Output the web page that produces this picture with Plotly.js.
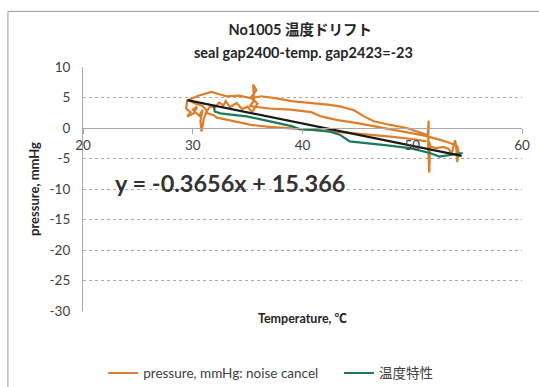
<!DOCTYPE html>
<html>
<head>
<meta charset="utf-8">
<script src="https://cdn.plot.ly/plotly-3.0.1.min.js"></script>
<style>
  html, body { margin: 0; padding: 0; background: #ffffff; }
  #chart { width: 539px; height: 387px; }
</style>
</head>
<body>
<div id="chart"></div>
<script>
// Measured pressure (noise-cancelled) over a temperature cycle
const pressureTemp = [
  29.5, 29.4, 29.8, 29.5, 30.1, 30.4, 30.0, 30.6, 30.9, 30.7, 30.8, 31.0, 31.3, 30.9, 30.2, 29.6,
  30.5, 31.7, 32.5, 33.1, 34.2, 35.3, 36.2, 37.5, 39.0, 40.8, 42.5, 43.5, 44.7, 45.6, 46.5, 48.0, 49.5, 50.8, 51.4,
  51.5, 51.45, 51.55, 51.6, 51.5, 51.7,
  52.2, 52.8, 53.3, 53.6, 53.9, 54.0, 54.1, 54.2, 54.3, 54.1,
  53.5, 52.5, 51.0, 49.5, 48.0, 46.5, 45.0, 43.2, 41.7, 40.8, 38.9, 37.0, 36.2, 35.2,
  35.6, 35.5, 35.8, 35.3, 35.9, 35.4, 35.0,
  34.5, 34.0, 33.4, 33.0, 32.8, 32.4, 32.0, 31.6, 31.2, 31.9,
  32.2, 33.5, 35.3, 37.0, 39.0, 40.8, 42.5, 44.0, 46.0, 48.0, 50.0, 51.3
];
const pressureValue = [
  4.6, 3.2, 2.6, 1.9, 2.4, 3.5, 3.0, 2.0, 3.0, 1.2, -0.6, 1.5, 2.8, 3.6, 4.0, 4.6,
  5.3, 5.9, 5.5, 5.2, 5.3, 4.9, 5.2, 4.9, 4.4, 4.1, 3.8, 3.5, 2.9, 1.9, 1.1, 0.5, 0.0, -0.8, -1.2,
  1.2, -3.0, -7.3, -4.0, -2.2, -3.1,
  -3.3, -3.1, -3.4, -4.2, -2.0, -3.0, -5.6, -4.1, -4.6, -3.0,
  -2.5, -1.9, -1.2, -0.7, -0.2, 0.4, 0.8, 1.3, 1.9, 2.6, 3.0, 3.2, 3.4, 3.6,
  4.5, 7.1, 6.2, 5.0, 4.0, 2.6, 3.5,
  3.1, 4.1, 3.4, 4.4, 3.7, 4.2, 3.3, 3.6, 2.5, 2.1,
  1.7, 1.2, 0.5, 0.2, 0.0, -0.3, -0.5, -0.8, -1.1, -1.4, -1.8, -2.2
];

// Temperature characteristic (温度特性)
const characteristicTemp = [
  31.9, 32.0, 32.5, 33.4, 34.9, 36.0, 37.0, 38.0, 39.0, 39.8, 41.0, 42.5, 43.4, 44.3,
  46.0, 47.5, 49.8, 51.6, 52.5, 53.4, 54.6
];
const characteristicValue = [
  3.8, 2.7, 2.4, 2.2, 1.9, 1.5, 1.1, 0.8, 0.3, -0.2, -0.3, -0.6, -1.1, -2.2,
  -2.5, -2.8, -3.3, -4.1, -4.7, -4.4, -4.1
];

// Linear trend line, as printed on the chart
const trendSlope = -0.3656;
const trendIntercept = 15.366;
const trendTemp = [29.5, 54.5];
const trendValue = trendTemp.map(t => trendSlope * t + trendIntercept);
const trendLabel = 'y = -0.3656x + 15.366';

// Axis ticks and labels
const yTickVals = [10, 5, 0, -5, -10, -15, -20, -25, -30];
const yTickText = ['10', '5', '0', '-5', '-10', '-15', '-20', '-25', '-30'];
const xTickVals = [20, 30, 40, 50, 60];
const xTickText = ['20', '30', '40', '50', '60'];

const seriesNames = ['pressure, mmHg: noise cancel', '温度特性'];
const titleLines = ['No1005 温度ドリフト', 'seal gap2400-temp. gap2423=-23'];
const xTitle = 'Temperature, ℃';
const yTitle = 'pressure, mmHg';
const xRange = [20, 60];
const yRange = [-30, 10];

const FONT = 'Lato, "Noto Sans CJK JP", "Liberation Sans", sans-serif';
const GRID = '#a9a9a9';
const TITLE_COLOR = '#262626';

const traces = [
  {
    x: pressureTemp, y: pressureValue, name: seriesNames[0],
    type: 'scatter', mode: 'lines', legend: 'legend',
    line: { color: '#dd7f2a', width: 2.2 },
    xaxis: 'x', yaxis: 'y'
  },
  {
    x: characteristicTemp, y: characteristicValue, name: seriesNames[1],
    type: 'scatter', mode: 'lines', legend: 'legend2',
    line: { color: '#1b7a5a', width: 2.2 },
    xaxis: 'x', yaxis: 'y'
  },
  {
    x: trendTemp, y: trendValue, name: 'trend',
    type: 'scatter', mode: 'lines', showlegend: false,
    line: { color: '#1a1a1a', width: 2.2 },
    xaxis: 'x2', yaxis: 'y'
  }
];

const legendStyle = {
  orientation: 'h', yanchor: 'middle', xanchor: 'left', y: -0.255,
  font: { size: 13.5, color: '#404040' }, itemwidth: 30, bgcolor: 'rgba(0,0,0,0)'
};

const layout = {
  width: 539, height: 387,
  margin: { l: 83, r: 17, t: 67, b: 76, autoexpand: false },
  paper_bgcolor: '#ffffff', plot_bgcolor: '#ffffff',
  font: { family: FONT, color: '#404040', size: 13 },
  showlegend: true,
  title: {
    text: '<b>' + titleLines[0] + '</b>',
    font: { family: FONT, size: 14.5, color: TITLE_COLOR },
    xref: 'container', x: 0.557, xanchor: 'center',
    yref: 'container', y: 1 - 25 / 387, yanchor: 'top'
  },
  xaxis: {
    range: xRange, showticklabels: false, showgrid: false, zeroline: false,
    showline: false, ticks: '',
    title: { text: '<b>' + xTitle + '</b>', font: { size: 12.5, color: TITLE_COLOR }, standoff: 3 }
  },
  xaxis2: {
    overlaying: 'x', anchor: 'free', position: 0.75, side: 'bottom',
    range: xRange, tickmode: 'array', tickvals: xTickVals, ticktext: xTickText,
    showgrid: false, zeroline: false,
    showline: true, linecolor: GRID, linewidth: 1,
    ticks: 'outside', ticklen: 5, tickcolor: GRID,
    tickfont: { size: 13.5, color: '#404040' }
  },
  yaxis: {
    range: yRange, tickmode: 'array', tickvals: yTickVals, ticktext: yTickText,
    showgrid: true, gridcolor: GRID, griddash: 'dot', gridwidth: 1,
    zeroline: false, showline: true, linecolor: GRID, linewidth: 1,
    ticks: '', ticklabelstandoff: 9,
    tickfont: { size: 13.5, color: '#404040' },
    title: { text: '<b>' + yTitle + '</b>', font: { size: 13, color: TITLE_COLOR }, standoff: 7 }
  },
  legend: Object.assign({}, legendStyle, { x: 0.046 }),
  legend2: Object.assign({}, legendStyle, { x: 0.583 }),
  annotations: [
    {
      text: '<b>' + titleLines[1] + '</b>', xref: 'paper', yref: 'paper',
      x: 0.503, y: 1.06, xanchor: 'center', yanchor: 'middle', showarrow: false,
      font: { size: 14.5, color: TITLE_COLOR }
    },
    {
      text: '<b>' + trendLabel + '</b>', xref: 'x', yref: 'y', x: 33.4, y: -9,
      showarrow: false, font: { size: 23.5, color: '#333333' }
    }
  ],
  shapes: [
    {
      type: 'rect', xref: 'paper', yref: 'paper', layer: 'below',
      x0: -0.171, x1: 1.06, y0: -0.36, y1: 1.228,
      line: { color: '#9a9a9a', width: 1 }
    }
  ]
};

Plotly.newPlot('chart', traces, layout, { displayModeBar: false, staticPlot: true });
</script>
</body>
</html>
